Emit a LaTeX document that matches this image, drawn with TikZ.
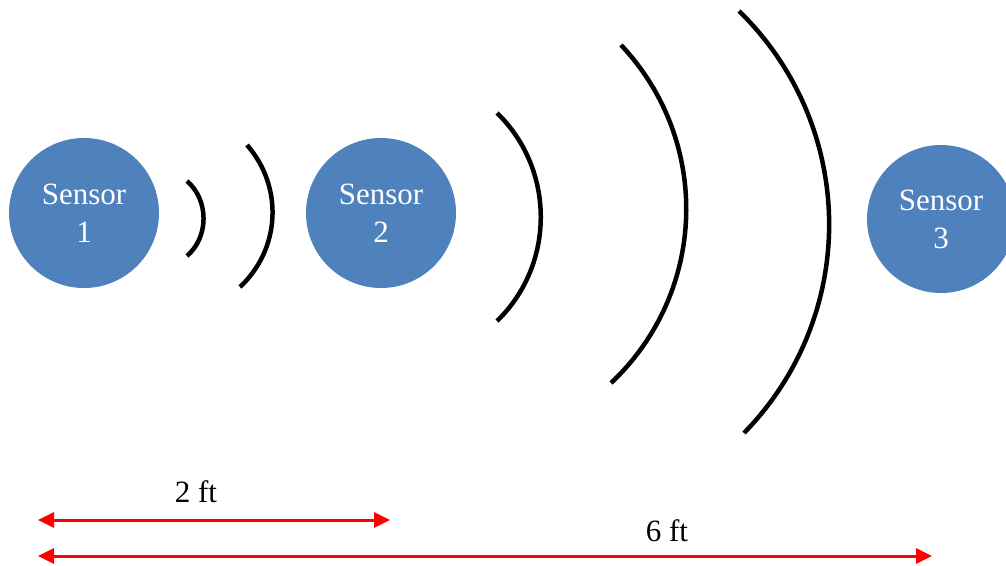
\documentclass[tikz,border=0pt]{standalone}
\usepackage{fontspec}
\setmainfont{Liberation Serif}
\usetikzlibrary{arrows.meta}
\definecolor{sensorblue}{RGB}{79,129,189}
\begin{document}
\begin{tikzpicture}[x=1pt,y=-1pt,
  sensor/.style={circle,fill=sensorblue,minimum size=150pt,inner sep=0pt,text=white,
    font=\fontsize{31}{38}\selectfont,align=center},
  wave/.style={line width=4.5pt,black},
  dim/.style={red,line width=3pt,{Triangle[length=16pt,width=15pt]}-{Triangle[length=16pt,width=15pt]}},
  lbl/.style={font=\fontsize{31}{36}\selectfont}]
\useasboundingbox (0,0) rectangle (1006,565);
\node[sensor] (s1) at (84,213) {Sensor\\1};
\node[sensor] (s2) at (381,213) {Sensor\\2};
\node[sensor,minimum size=148pt] (s3) at (941,219) {Sensor\\3};
\coordinate (a1s) at (187,181); \coordinate (a1e) at (187,256);
\coordinate (a2s) at (247,145); \coordinate (a2e) at (240,287);
\coordinate (a3s) at (497,113); \coordinate (a3e) at (497,321);
\coordinate (a4s) at (621,45);  \coordinate (a4e) at (611,383);
\coordinate (a5s) at (739,11);  \coordinate (a5e) at (744,433);
\draw[wave] (a1s) to[bend left=49] (a1e);
\draw[wave] (a2s) to[bend left=44] (a2e);
\draw[wave] (a3s) to[bend left=46] (a3e);
\draw[wave] (a4s) to[bend left=45] (a4e);
\draw[wave] (a5s) to[bend left=45] (a5e);
\coordinate (d1s) at (38,520); \coordinate (d1e) at (390,520);
\coordinate (d2s) at (38,556); \coordinate (d2e) at (932,556);
\draw[dim] (d1s) -- (d1e);
\draw[dim] (d2s) -- (d2e);
\node[lbl] (l1) at (196,492) {2 ft};
\node[lbl] (l2) at (667,531) {6 ft};
\end{tikzpicture}
\end{document}
